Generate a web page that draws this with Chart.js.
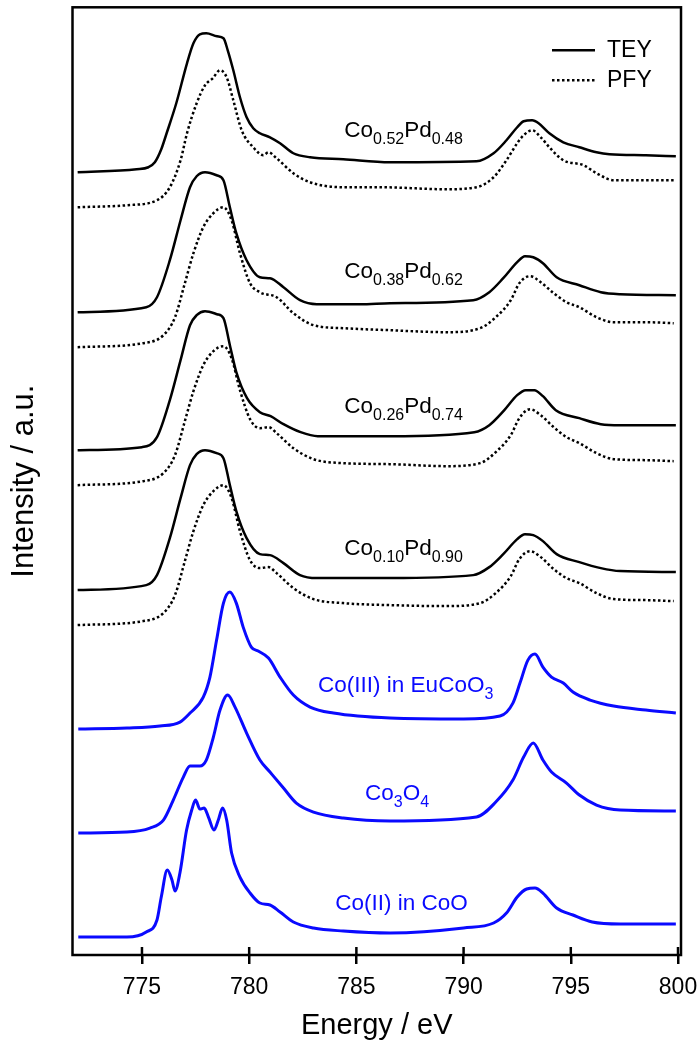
<!DOCTYPE html>
<html>
<head>
<meta charset="utf-8">
<script src="https://cdn.jsdelivr.net/npm/chart.js@4.4.1/dist/chart.umd.min.js"></script>
<style>
  body { margin: 0; background: #fff; }
  canvas { display: block; }
</style>
</head>
<body>
<canvas id="xasChart" width="698" height="1042"></canvas>
<script>
// x axis ticks (eV)
var tickValues = [775, 780, 785, 790, 795, 800];

// Co0.52Pd0.48
var tey52E = [772.0, 774.75, 775.3, 775.6, 775.9, 776.15, 776.6, 777.1, 777.4, 777.7, 778.0, 778.5, 778.8, 779.0, 779.26, 779.57, 779.88, 780.19, 780.5, 780.97, 781.44, 782.06, 782.84, 784.39, 786.57, 790.6, 791.4, 792.0, 792.5, 792.8, 793.2, 793.5, 794.0, 794.65, 795.4, 796.2, 796.8, 798.5, 799.9];
var tey52I = [783, 786, 788, 793, 806, 822, 852, 892, 912, 921, 922, 919, 917, 905, 885, 858, 838, 827, 822, 818, 812, 802, 798, 796, 793, 794, 802, 815, 828, 834, 835, 832, 822, 813, 808, 803, 801, 800, 799];
var pfy52E = [772.0, 774.3, 775.7, 776.3, 776.8, 777.1, 777.55, 777.94, 778.3, 778.64, 778.95, 779.26, 779.65, 780.19, 780.66, 780.9, 781.28, 782.06, 782.84, 784.39, 786.1, 789.2, 790.6, 791.4, 792.0, 792.5, 792.8, 793.2, 793.6, 794.0, 794.65, 795.6, 796.2, 797.0, 798.5, 799.8];
var pfy52I = [748, 750, 755, 768, 795, 822, 852, 870, 877, 885, 878, 855, 825, 808, 800, 803, 797, 782, 773, 768, 768, 766, 768, 778, 795, 812, 820, 825, 818, 808, 795, 790, 782, 775, 775, 775];

// Co0.38Pd0.62
var tey38E = [772.0, 775.2, 775.7, 776.3, 776.8, 777.24, 777.55, 777.94, 778.48, 778.8, 779.1, 779.4, 779.88, 780.5, 780.97, 781.6, 782.37, 783.15, 785.17, 786.57, 790.45, 791.2, 791.85, 792.5, 792.86, 793.25, 793.7, 794.34, 795.4, 796.4, 797.3, 799.9];
var tey38I = [643, 648, 658, 695, 735, 768, 779, 783, 780, 775, 748, 722, 695, 678, 677, 668, 655, 651, 651, 652, 655, 663, 677, 693, 699, 698, 692, 678, 670, 663, 661, 660];
var pfy38E = [772.0, 775.06, 776.0, 776.54, 777.0, 777.4, 777.86, 778.33, 778.8, 779.18, 779.57, 780.04, 780.5, 781.28, 782.06, 783.0, 784.39, 786.57, 789.2, 790.77, 791.5, 792.2, 792.6, 793.1, 793.6, 794.2, 794.8, 795.4, 796.2, 797.0, 798.5, 799.8];
var pfy38I = [608, 612, 620, 638, 672, 702, 728, 742, 748, 735, 702, 672, 663, 658, 642, 630, 627, 625, 623, 627, 638, 655, 672, 679, 673, 662, 653, 648, 638, 633, 633, 632];

// Co0.26Pd0.74
var tey26E = [772.0, 775.0, 775.7, 776.3, 776.8, 777.24, 777.55, 777.94, 778.5, 778.8, 779.1, 779.4, 779.9, 780.5, 781.0, 781.6, 782.4, 783.2, 786.6, 790.5, 791.2, 791.9, 792.5, 792.9, 793.3, 793.7, 794.3, 795.4, 796.4, 797.3, 799.9];
var tey26I = [505, 508, 518, 555, 595, 630, 640, 644, 641, 637, 610, 583, 557, 543, 539, 531, 523, 519, 519, 523, 530, 545, 560, 565, 565, 559, 545, 537, 531, 530, 530];
var pfy26E = [772.0, 775.06, 776.0, 776.54, 777.0, 777.4, 777.86, 778.33, 778.8, 779.18, 779.57, 780.04, 780.5, 780.9, 781.28, 782.06, 783.0, 784.39, 786.57, 789.2, 790.77, 791.5, 792.2, 792.6, 793.1, 793.6, 794.2, 794.8, 795.4, 796.2, 797.0, 798.5, 799.8];
var pfy26I = [470, 474, 482, 500, 534, 564, 590, 604, 609, 597, 565, 536, 527, 528, 522, 507, 496, 492, 491, 489, 492, 503, 520, 537, 546, 540, 528, 518, 512, 502, 496, 495, 494];

// Co0.10Pd0.90
var tey10E = [772.0, 775.2, 775.7, 776.3, 776.8, 777.24, 777.55, 777.94, 778.48, 778.8, 779.1, 779.4, 779.88, 780.5, 780.97, 781.6, 782.37, 783.15, 785.17, 786.57, 790.45, 791.2, 791.85, 792.5, 792.86, 793.25, 793.7, 794.34, 795.4, 796.4, 797.3, 799.9];
var tey10I = [365, 370, 380, 417, 457, 490, 501, 505, 502, 497, 470, 444, 417, 401, 400, 392, 380, 377, 377, 377, 380, 388, 401, 416, 421, 420, 414, 401, 393, 387, 384, 383];
var pfy10E = [772.0, 775.06, 776.0, 776.54, 777.0, 777.4, 777.86, 778.33, 778.8, 779.18, 779.57, 780.04, 780.5, 780.9, 781.28, 782.06, 783.0, 784.39, 786.57, 789.2, 790.77, 791.5, 792.2, 792.6, 793.1, 793.6, 794.2, 794.8, 795.4, 796.2, 797.0, 798.5, 799.8];
var pfy10I = [330, 334, 342, 360, 394, 424, 450, 464, 470, 457, 424, 395, 387, 388, 382, 367, 356, 352, 350, 349, 352, 362, 379, 396, 404, 398, 386, 377, 372, 362, 356, 355, 354];

// references
var eucoE = [772.03, 774.3, 775.84, 776.77, 777.24, 777.86, 778.17, 778.48, 778.8, 779.1, 779.4, 779.72, 780.1, 780.42, 780.9, 781.44, 782.06, 782.84, 783.93, 786.57, 790.0, 791.7, 792.3, 792.63, 793.0, 793.33, 793.7, 794.1, 794.65, 795.1, 795.9, 797.0, 798.5, 799.9];
var eucoI = [226, 227, 229, 233, 242, 258, 278, 315, 352, 363, 352, 328, 308, 304, 297, 278, 260, 248, 242, 237, 236, 239, 252, 272, 295, 301, 288, 278, 272, 263, 255, 249, 245, 242];
var co3o4E = [772.03, 774.3, 775.37, 776.0, 776.46, 776.93, 777.24, 777.7, 778.0, 778.33, 778.64, 779.0, 779.34, 779.88, 780.5, 780.97, 781.6, 782.2, 783.0, 784.39, 786.57, 790.6, 791.5, 792.3, 792.8, 793.25, 793.7, 794.1, 794.8, 795.4, 796.2, 797.3, 799.9];
var co3o4I = [122, 123, 127, 135, 155, 178, 189, 189, 195, 218, 245, 260, 248, 222, 195, 183, 167, 152, 143, 137, 134, 138, 153, 175, 198, 212, 195, 183, 172, 160, 150, 145, 144];
var cooE = [772.03, 774.3, 775.2, 775.7, 775.9, 776.18, 776.4, 776.54, 776.77, 777.08, 777.32, 777.5, 777.7, 777.9, 778.1, 778.36, 778.56, 778.76, 778.95, 779.18, 779.57, 780.04, 780.5, 780.97, 781.44, 782.06, 783.0, 784.39, 786.57, 790.0, 791.4, 792.0, 792.5, 792.94, 793.33, 793.7, 794.34, 795.1, 796.0, 797.3, 799.9];
var cooI = [18, 18, 23, 35, 58, 85, 75, 64, 82, 125, 145, 155, 146, 147, 138, 125, 135, 147, 135, 102, 78, 62, 52, 50, 43, 33, 27, 24, 22, 27, 32, 42, 58, 66, 67, 62, 47, 40, 33, 31, 31];

var blue = "#0a0aff";

function pts(E, I) {
  return E.map(function (e, i) { return { x: e, y: I[i] }; });
}

function solid(E, I) {
  return { data: pts(E, I), borderColor: "#000", borderWidth: 2.5, pointRadius: 0, cubicInterpolationMode: "monotone" };
}
function dotted(E, I) {
  return { data: pts(E, I), borderColor: "#000", borderWidth: 2.5, borderDash: [2.5, 2.5], pointRadius: 0, cubicInterpolationMode: "monotone" };
}
function ref(E, I) {
  return { data: pts(E, I), borderColor: blue, borderWidth: 3, pointRadius: 0, cubicInterpolationMode: "monotone" };
}

// curve labels: [text, subscript?] parts, placed in data coords
var curveLabels = [
  { parts: [["Co", 0], ["0.52", 1], ["Pd", 0], ["0.48", 1]], x: 787.2, y: 818, color: "#000" },
  { parts: [["Co", 0], ["0.38", 1], ["Pd", 0], ["0.62", 1]], x: 787.2, y: 677, color: "#000" },
  { parts: [["Co", 0], ["0.26", 1], ["Pd", 0], ["0.74", 1]], x: 787.2, y: 542, color: "#000" },
  { parts: [["Co", 0], ["0.10", 1], ["Pd", 0], ["0.90", 1]], x: 787.2, y: 400, color: "#000" },
  { parts: [["Co(III) in EuCoO", 0], ["3", 1]], x: 787.3, y: 263, color: blue },
  { parts: [["Co", 0], ["3", 1], ["O", 0], ["4", 1]], x: 786.9, y: 155, color: blue },
  { parts: [["Co(II) in CoO", 0]], x: 787.1, y: 45, color: blue }
];

var FONT = "'Liberation Sans', Arial, Helvetica, sans-serif";
Chart.defaults.font.family = FONT;
Chart.defaults.color = "#000";

var decor = {
  id: "decor",
  afterDatasetsDraw: function (chart) {
    var ctx = chart.ctx, a = chart.chartArea;
    var xs = chart.scales.x, ys = chart.scales.y;
    ctx.save();
    // frame
    ctx.strokeStyle = "#000";
    ctx.lineWidth = 2.5;
    ctx.setLineDash([]);
    ctx.strokeRect(a.left, a.top, a.right - a.left, a.bottom - a.top);
    // inner tick marks
    tickValues.forEach(function (v) {
      var px = xs.getPixelForValue(v);
      ctx.beginPath();
      ctx.moveTo(px, a.bottom);
      ctx.lineTo(px, a.bottom - 8);
      ctx.stroke();
    });

    // curve labels
    ctx.textBaseline = "alphabetic";
    ctx.textAlign = "left";
    curveLabels.forEach(function (lb) {
      var w = 0;
      lb.parts.forEach(function (p) {
        ctx.font = (p[1] ? 16 : 22.5) + "px " + FONT;
        w += ctx.measureText(p[0]).width;
      });
      var x = xs.getPixelForValue(lb.x) - w / 2;
      var y = ys.getPixelForValue(lb.y);
      ctx.fillStyle = lb.color;
      lb.parts.forEach(function (p) {
        ctx.font = (p[1] ? 16 : 22.5) + "px " + FONT;
        ctx.fillText(p[0], x, p[1] ? y + 6.5 : y);
        x += ctx.measureText(p[0]).width;
      });
    });

    // legend
    var lx = a.right - 129, ly = a.top + 43;
    ctx.strokeStyle = "#000";
    ctx.lineWidth = 2.5;
    ctx.beginPath();
    ctx.moveTo(lx, ly);
    ctx.lineTo(lx + 43, ly);
    ctx.stroke();
    ctx.setLineDash([2.5, 2.5]);
    ctx.beginPath();
    ctx.moveTo(lx, ly + 30);
    ctx.lineTo(lx + 43, ly + 30);
    ctx.stroke();
    ctx.setLineDash([]);
    ctx.fillStyle = "#000";
    ctx.font = "23px " + FONT;
    ctx.textBaseline = "middle";
    ctx.fillText("TEY", lx + 55, ly);
    ctx.fillText("PFY", lx + 55, ly + 30);
    ctx.restore();
  }
};

new Chart("xasChart", {
  type: "line",
  data: {
    datasets: [
      solid(tey52E, tey52I), dotted(pfy52E, pfy52I),
      solid(tey38E, tey38I), dotted(pfy38E, pfy38I),
      solid(tey26E, tey26I), dotted(pfy26E, pfy26I),
      solid(tey10E, tey10I), dotted(pfy10E, pfy10I),
      ref(eucoE, eucoI), ref(co3o4E, co3o4I), ref(cooE, cooI)
    ]
  },
  options: {
    responsive: false,
    animation: false,
    devicePixelRatio: 1,
    layout: { padding: { top: 7.3, right: 17, bottom: 0, left: 0 } },
    plugins: { legend: { display: false }, tooltip: { enabled: false } },
    scales: {
      x: {
        type: "linear",
        min: 771.76,
        max: 800.14,
        afterBuildTicks: function (s) { s.ticks = tickValues.map(function (v) { return { value: v }; }); },
        afterFit: function (s) { s.height = 87; s.paddingLeft = 0; s.paddingRight = 0; },
        ticks: { font: { size: 23 }, color: "#000", padding: 10, maxRotation: 0, autoSkip: false },
        grid: { display: true, drawOnChartArea: false, drawTicks: true, tickLength: 9, lineWidth: 2.5, color: "#000" },
        border: { display: false },
        title: { display: true, text: "Energy / eV", font: { size: 29, lineHeight: 1.1 }, color: "#000", padding: { top: 0, bottom: 0 } }
      },
      y: {
        min: 0,
        max: 948,
        afterFit: function (s) { s.width = 72.5; },
        ticks: { display: false },
        grid: { display: false },
        border: { display: false },
        title: { display: true, text: "Intensity / a.u.", font: { size: 31, lineHeight: 1.2 }, color: "#000", padding: { top: 6, bottom: 0 } }
      }
    }
  },
  plugins: [decor]
});
</script>
</body>
</html>
